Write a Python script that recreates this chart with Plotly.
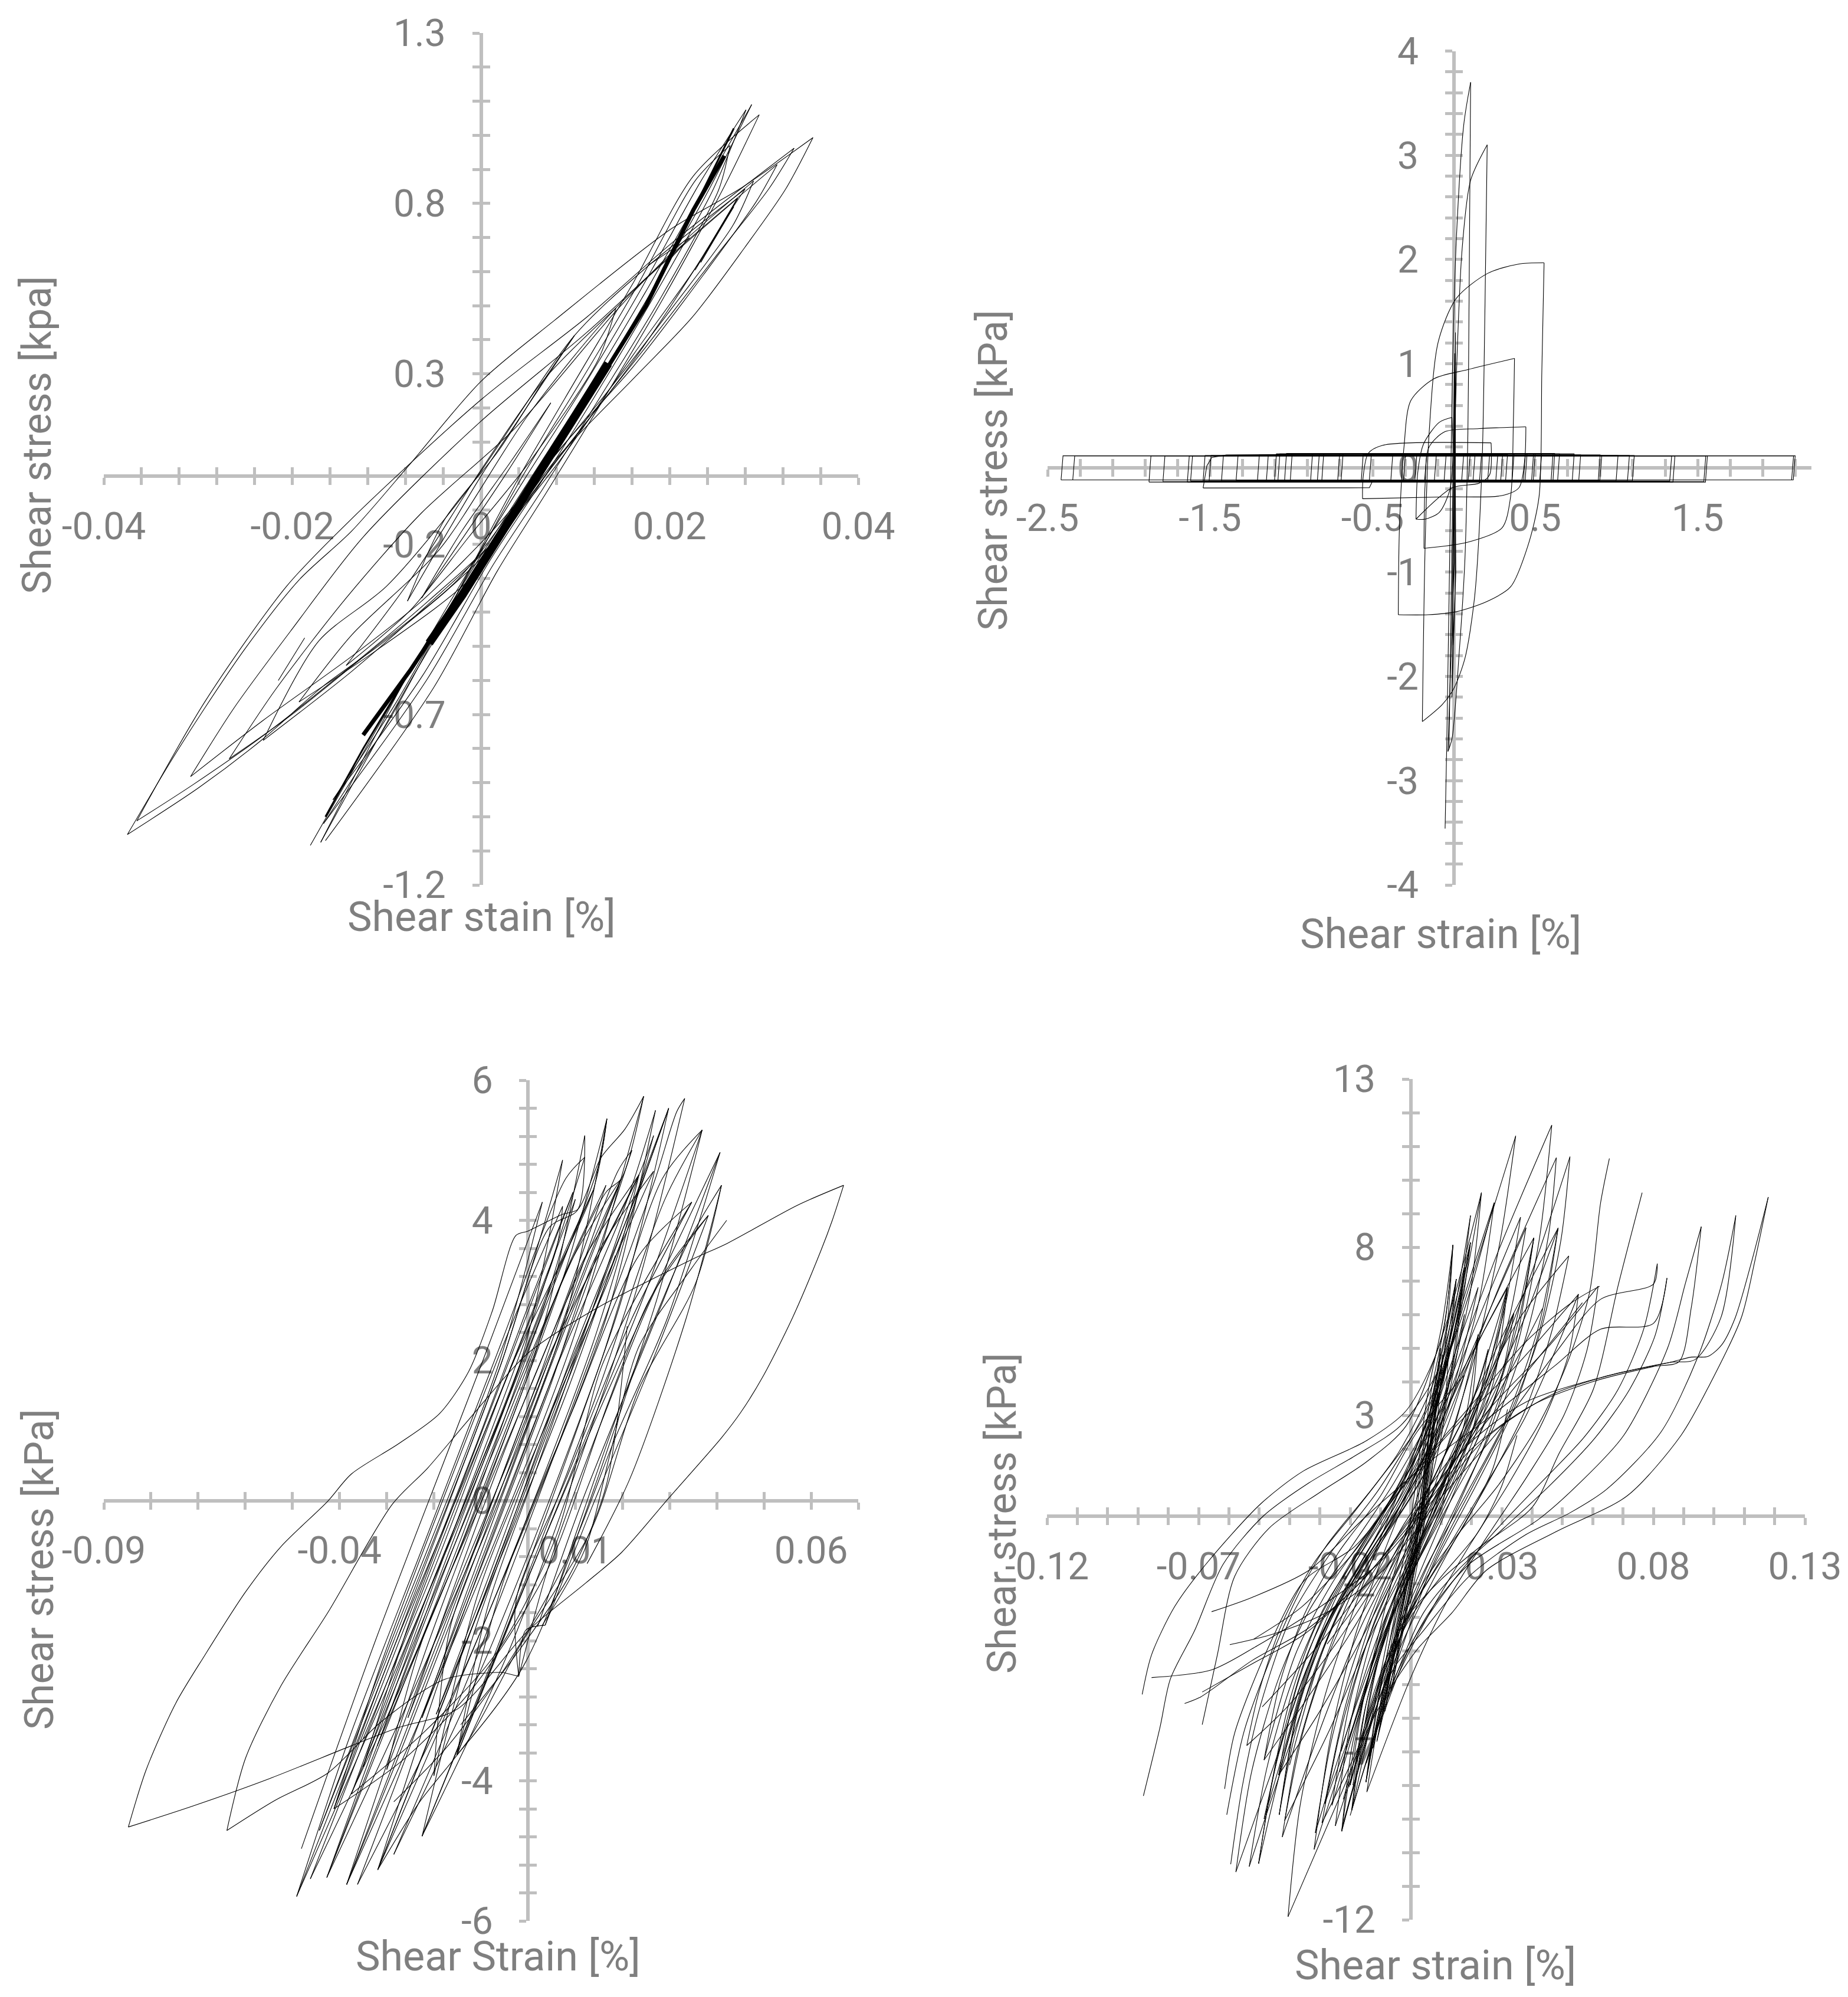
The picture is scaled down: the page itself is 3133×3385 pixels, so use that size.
import plotly.graph_objects as go

W, H = 3133, 3385
INK = "#000000"; AXIS = "#bfbfbf"; TEXT = "#7f7f7f"
FONT = "Roboto"
PAGE_MARGIN = 8   # the page body adds this much on the top and left

# ---------- tick definitions ----------
p1_xticks = [-0.04,-0.036,-0.032,-0.028,-0.024,-0.02,-0.016,-0.012,-0.008,-0.004,0,0.004,0.008,0.012,0.016,0.02,0.024,0.028,0.032,0.036,0.04]
p1_xlabels = {-0.04:"-0.04",-0.02:"-0.02",0:"0",0.02:"0.02",0.04:"0.04"}
p1_yticks = [-1.2,-1.1,-1.0,-0.9,-0.8,-0.7,-0.6,-0.5,-0.4,-0.3,-0.2,-0.1,0,0.1,0.2,0.3,0.4,0.5,0.6,0.7,0.8,0.9,1.0,1.1,1.2,1.3]
p1_ylabels = {-1.2:"-1.2",-0.7:"-0.7",-0.2:"-0.2",0.3:"0.3",0.8:"0.8",1.3:"1.3"}
p2_xticks = [-2.5,-2.3,-2.1,-1.9,-1.7,-1.5,-1.3,-1.1,-0.9,-0.7,-0.5,-0.3,-0.1,0.1,0.3,0.5,0.7,0.9,1.1,1.3,1.5,1.7,1.9,2.1]
p2_xlabels = {-2.5:"-2.5",-1.5:"-1.5",-0.5:"-0.5",0.5:"0.5",1.5:"1.5"}
p2_yticks = [-4,-3.8,-3.6,-3.4,-3.2,-3,-2.8,-2.6,-2.4,-2.2,-2,-1.8,-1.6,-1.4,-1.2,-1,-0.8,-0.6,-0.4,-0.2,0,0.2,0.4,0.6,0.8,1,1.2,1.4,1.6,1.8,2,2.2,2.4,2.6,2.8,3,3.2,3.4,3.6,3.8,4]
p2_ylabels = {-4:"-4",-3:"-3",-2:"-2",-1:"-1",0:"0",1:"1",2:"2",3:"3",4:"4"}
p3_xticks = [-0.09,-0.08,-0.07,-0.06,-0.05,-0.04,-0.03,-0.02,-0.01,0,0.01,0.02,0.03,0.04,0.05,0.06,0.07]
p3_xlabels = {-0.09:"-0.09",-0.04:"-0.04",0.01:"0.01",0.06:"0.06"}
p3_yticks = [-6,-5.6,-5.2,-4.8,-4.4,-4,-3.6,-3.2,-2.8,-2.4,-2,-1.6,-1.2,-0.8,-0.4,0,0.4,0.8,1.2,1.6,2,2.4,2.8,3.2,3.6,4,4.4,4.8,5.2,5.6,6]
p3_ylabels = {-6:"-6",-4:"-4",-2:"-2",0:"0",2:"2",4:"4",6:"6"}
p4_xticks = [-0.12,-0.11,-0.1,-0.09,-0.08,-0.07,-0.06,-0.05,-0.04,-0.03,-0.02,-0.01,0,0.01,0.02,0.03,0.04,0.05,0.06,0.07,0.08,0.09,0.1,0.11,0.12,0.13]
p4_xlabels = {-0.12:"-0.12",-0.07:"-0.07",-0.02:"-0.02",0.03:"0.03",0.08:"0.08",0.13:"0.13"}
p4_yticks = [-12,-11,-10,-9,-8,-7,-6,-5,-4,-3,-2,-1,0,1,2,3,4,5,6,7,8,9,10,11,12,13]
p4_ylabels = {-12:"-12",-7:"-7",-2:"-2",3:"3",8:"8",13:"13"}

# ---------- panel 1: shear strain / stress loops ----------
p1_loop_a = [(-0.0375,-1.052),(-0.033,-0.842),(-0.0293,-0.681),(-0.0249,-0.502),(-0.0193,-0.305),(-0.0137,-0.161),(-0.0075,0.036),(0,0.278),(0.0078,0.457),(0.0202,0.726),(0.0274,0.842),(0.0352,0.993),(0.0323,0.842),(0.028,0.672),(0.0224,0.466),(0.0162,0.287),(0.0081,0.054),(0.0006,-0.224),(-0.0038,-0.34),(-0.0106,-0.493),(-0.0168,-0.618),(-0.0231,-0.771),(-0.0299,-0.914),(-0.0375,-1.052)]
p1_loop_b = [(-0.0365,-1.012),(-0.0293,-0.663),(-0.0206,-0.323),(-0.0137,-0.125),(0,0.224),(0.0112,0.466),(0.0205,0.69),(0.0332,0.962),(0.0305,0.842),(0.0249,0.645),(0.0174,0.376),(0.0087,0.072),(0.0018,-0.179),(-0.0056,-0.367),(-0.0137,-0.556),(-0.0231,-0.762),(-0.0305,-0.905),(-0.0365,-1.012)]
p1_loop_c = [(-0.0308,-0.882),(-0.0262,-0.681),(-0.02,-0.448),(-0.0125,-0.179),(0,0.161),(0.0112,0.421),(0.0211,0.672),(0.0314,0.914),(0.0292,0.806),(0.0236,0.591),(0.0162,0.323),(0.0087,0.09),(0.0018,-0.143),(-0.0063,-0.367),(-0.0137,-0.529),(-0.0231,-0.717),(-0.0308,-0.882)]
p1_loop_d = [(-0.0267,-0.83),(-0.0218,-0.627),(-0.0143,-0.358),(-0.0063,-0.108),(0.0037,0.143),(0.0143,0.484),(0.0205,0.663),(0.0289,0.866),(0.0267,0.735),(0.0205,0.502),(0.013,0.233),(0.005,-0.036),(-0.0025,-0.305),(-0.0112,-0.502),(-0.02,-0.699),(-0.0267,-0.83)]
p1_loop_e = [(-0.0231,-0.776),(-0.0172,-0.484),(-0.01,-0.323),(-0.0013,-0.036),(0.0099,0.412),(0.0174,0.609),(0.028,0.842),(0.0267,0.788),(0.0227,0.609),(0.0162,0.358),(0.0081,0.036),(0.0006,-0.215),(-0.0063,-0.394),(-0.0137,-0.573),(-0.0231,-0.776)]
p1_loop_f = [(-0.0193,-0.663),(-0.0137,-0.466),(-0.0044,-0.215),(0.005,0.179),(0.0143,0.493),(0.0272,0.815),(0.0227,0.609),(0.0162,0.34),(0.0068,0),(-0.0013,-0.305),(-0.0106,-0.502),(-0.0193,-0.663)]
p1_loop_g = [(-0.0143,-0.556),(-0.0075,-0.305),(0,0.018),(0.0068,0.287),(0.0143,0.493),(0.0124,0.34),(0.005,0.036),(-0.0013,-0.179),(-0.0075,-0.394),(-0.0143,-0.556)]
p1_loop_i = [(-0.0078,-0.367),(0,0),(0.0043,0.179),(0.0099,0.412),(0.0068,0.287),(0.0018,0.072),(-0.0038,-0.125),(-0.0078,-0.367)]
p1_loop_j = [(-0.0063,-0.358),(0.0025,0),(0.0074,0.215),(0.0031,0.04),(-0.002,-0.16),(-0.0063,-0.358)]
p1_dash_h = [(-0.0215,-0.6),(-0.0187,-0.475)]
p1_dash_k = [(0.0227,0.604),(0.0272,0.815),(0.0233,0.627),(0.0268,0.79),(0.0229,0.615)]
p1_dash_l = [(0.0177,0.618),(0.0221,0.699),(0.0195,0.62)]
p1_band = [(-0.0181,-1.084),(-0.0075,-0.573),(0,-0.233),(0.005,-0.018),(0.0112,0.251),(0.0174,0.538),(0.0236,0.842),(0.0287,1.09),
           (0.0242,0.842),(0.018,0.538),(0.0118,0.251),(0.0057,-0.018),(0.0006,-0.233),(-0.0069,-0.573),(-0.017,-1.075),
           (-0.0081,-0.6),(-0.0005,-0.24),(0.0046,-0.01),(0.0108,0.26),(0.017,0.55),(0.0232,0.86),(0.0281,1.075),
           (0.0246,0.84),(0.0184,0.53),(0.0122,0.24),(0.0061,-0.03),(0.0009,-0.25),(-0.0063,-0.59),(-0.0157,-0.95),
           (-0.0089,-0.66),(-0.001,-0.27),(0.0042,-0.01),(0.0104,0.27),(0.0166,0.56),(0.0228,0.87),(0.0264,0.97),
           (0.0252,0.84),(0.019,0.52),(0.0126,0.23),(0.0065,-0.04),(0.0013,-0.26),(-0.0058,-0.6),(-0.0167,-1.02),
           (-0.0094,-0.7),(-0.0013,-0.28),(0.0039,-0.01),(0.01,0.28),(0.0162,0.57),(0.0225,0.88),(0.0295,1.06),
           (0.0258,0.85),(0.0195,0.53),(0.0131,0.23),(0.0069,-0.05),(0.0017,-0.28),(-0.005,-0.62),(-0.0165,-1.07)]
p1_band_core = [(-0.0055,-0.49),(-0.002,-0.35),(0.0046,-0.06),(0.0105,0.2),(0.0135,0.33)]
p1_band_wide = [(-0.0125,-0.76),(-0.0075,-0.57),(0,-0.255),(0.0065,0.02),(0.013,0.3),(0.0175,0.5),(0.0225,0.78),(0.0258,0.94)]
p1_band_thin = [(-0.0165,-1.0),(-0.0125,-0.8),(-0.0075,-0.57),(0,-0.255),(0.0065,0.02),(0.013,0.3),(0.0175,0.5),(0.0225,0.78),(0.0268,1.02)]

# ---------- panel 2 ----------
p2_band_left  = [-2.417,-2.345,-1.876,-1.79,-1.64,-1.62,-1.543,-1.506,-1.43,-1.34,-1.209,-1.154,-1.104,-1.083,-1.042,-1.007,-0.882,-0.84,-0.813,-0.715,-0.694,-0.57,-0.52,-0.388,-0.31,-0.24,-0.18,-0.12,-0.06]
p2_band_right = [2.1,2.09,1.56,1.55,1.36,1.34,1.11,1.08,1.01,0.91,0.9,0.78,0.74,0.65,0.61,0.54,0.5,0.49,0.45,0.44,0.37,0.33,0.3,0.27,0.22,0.17,0.13,0.1,0.06]
p2_band_top   = [0.117,0.117,0.117,0.117,0.117,0.117,0.12,0.12,0.12,0.12,0.125,0.125,0.135,0.135,0.14,0.14,0.135,0.135,0.135,0.135,0.135,0.13,0.13,0.13,0.13,0.13,0.125,0.125,0.12]
p2_band_bot   = [-0.115,-0.115,-0.135,-0.13,-0.135,-0.125,-0.125,-0.125,-0.125,-0.12,-0.13,-0.13,-0.13,-0.13,-0.125,-0.13,-0.13,-0.125,-0.13,-0.125,-0.125,-0.125,-0.12,-0.12,-0.12,-0.12,-0.12,-0.12,-0.12]
p2_spiral = [(-0.054,-3.46),(-0.044,-2.66),(-0.026,-0.873),(-0.009,0.914),(0.016,2.224),(0.061,3.296),(0.103,3.7),(0.093,1.51),(0.086,0.319),(0.068,-0.873),(0.033,-1.766),(-0.012,-2.6),(-0.037,-2.72),(-0.012,-1.468),(-0.002,-0.277),(0.016,0.914),(0.051,2.105),(0.103,2.76),(0.205,3.1),(0.191,1.51),(0.173,0.021),(0.128,-1.23),(0.068,-1.826),(-0.002,-2.12),(-0.072,-2.27),(-0.194,-2.433),(-0.177,-0.753),(-0.153,0.319),(-0.096,1.212),(0.016,1.629),(0.208,1.867),(0.401,1.957),(0.555,1.968),(0.541,0.914),(0.524,-0.277),(0.454,-0.753),(0.349,-1.14),(0.208,-1.278),(0.016,-1.379),(-0.159,-1.408),(-0.342,-1.408),(-0.335,-0.575),(-0.307,0.2),(-0.265,0.646),(-0.124,0.855),(0.086,0.944),(0.373,1.051),(0.366,0.438),(0.349,-0.277),(0.296,-0.575),(0.086,-0.712),(-0.184,-0.771),(-0.177,-0.158),(-0.153,0.2),(-0.054,0.349),(0.156,0.378),(0.443,0.395),(0.436,0.08),(0.401,-0.188),(0.296,-0.265),(-0.054,-0.277),(-0.562,-0.295),(-0.559,-0.098),(-0.527,0.14),(-0.44,0.217),(0.229,0.241),(0.219,-0.068),(0.156,-0.146),(-0.01,-0.19),(-0.233,-0.491),(-0.222,-0.039),(-0.187,0.229),(-0.09,0.438),(-0.012,0.485),(-0.005,0.14),(-0.026,-0.217),(-0.09,-0.426),(-0.177,-0.491),(-0.233,-0.491)]
p2_mid_rect = [(-1.543,-0.192),(-1.52,0.02),(-1.49,0.1),(-1.4,0.125),(-1.0,0.13),(0.3,0.14),(0.62,0.14),(0.61,-0.12),(-0.5,-0.125),(-0.52,-0.19),(-1.543,-0.192)]
p2_trunk = [(-0.03,-2.7),(0.005,1.1),(0.012,-1.0),(-0.012,-2.2),(0.01,1.3),(0.008,-1.2),(-0.008,-1.7),(0.005,0.8),(0.003,-0.9),(-0.005,-1.2),(0.006,0.5),(0.0,-0.6)]

# ---------- panel 3 ----------
p3_big_a = [(-0.0848,-4.66),(-0.081,-3.84),(-0.0748,-2.9),(-0.0686,-2.21),(-0.0599,-1.3),(-0.0524,-0.655),(-0.0425,-0.009),(-0.0375,0.379),(-0.0275,0.81),(-0.0188,1.241),(-0.0126,1.845),(-0.0076,2.707),(-0.0026,3.784),(-0.0001,3.845),(0.0073,4.086),(0.0105,4.155),(0.0155,4.9),(0.0205,5.3),(0.0245,5.77)]
p3_big_b = [(0.0669,4.5),(0.0645,4.0),(0.0621,3.57),(0.056,2.6),(0.0497,1.76),(0.045,1.25),(0.041,0.896),(0.0298,0.034),(0.0198,-0.741),(0.0123,-1.172),(-0.0001,-1.862),(-0.0151,-2.98),(-0.0275,-3.24),(-0.0375,-3.5),(-0.0549,-3.97),(-0.0711,-4.36),(-0.0848,-4.66)]
p3_big_c = [(-0.0639,-4.71),(-0.0599,-3.67),(-0.0524,-2.64),(-0.0425,-1.6),(-0.0288,-0.052),(-0.0213,0.465),(-0.0126,1.155),(-0.0001,2.1),(0.0136,2.71),(0.0347,3.44),(0.0422,3.67),(0.0571,4.215),(0.0669,4.5)]
p3_big_d = [(-0.0639,-4.71),(-0.0537,-4.28),(-0.0425,-3.89),(-0.0312,-3.16),(-0.0176,-2.55),(-0.0055,-2.45),(-0.002,-2.51),(-0.0005,-1.85),(0.0036,-1.78)]
p3_shallow_a = [(-0.0319,-5.27),(-0.023,-4.3),(-0.0125,-3.4),(-0.002,-2.1),(0.0135,-0.4),(0.0235,1.6),(0.0355,3.1),(0.041,4.5)]
p3_shallow_b = [(-0.0285,-4.3),(-0.017,-3.5),(-0.005,-2.4),(0.0085,-0.8),(0.0185,0.9),(0.0295,2.6),(0.0407,4.97)]
p3_shallow_c = [(-0.0412,-4.4),(-0.0265,-3.7),(-0.012,-2.7),(0.004,-1.0),(0.017,1.4),(0.026,2.9),(0.0382,4.07)]
p3_shallow_d = [(-0.0375,-4.19),(-0.022,-3.3),(-0.0065,-2.15),(0.006,-0.5),(0.0155,1.9),(0.0245,3.1),(0.0347,4.26)]
p3_shallow_e = [(-0.0143,-3.2),(-0.0037,-2.3),(0.0085,-1.1),(0.0165,0.2),(0.021,2.49)]
p3_shallow_f = [(0.003,-1.78),(0.012,-0.7),(0.0175,0.7),(0.0235,2.2),(0.0345,3.3),(0.0421,4.0)]
p3_chain_a = [(-0.0481,-4.97),(-0.0324,-2),(-0.0096,2),(0.003,4.26),(-0.006,2),(-0.029,-2),(-0.0443,-4.71),(-0.0285,-2),(-0.0055,2),(0.0073,4.86),(-0.0015,2),(-0.0255,-2),(-0.0491,-5.65),(-0.0285,-2.1),(-0.006,1.9),(0.0045,3.9),(0.0105,4.15),(0.012,5.21),(0.002,2.2),(-0.024,-2.2),(-0.0462,-5.4),(-0.0265,-2),(-0.003,2),(0.0138,4.43),(0.0167,5.45),(0.007,2.4),(-0.021,-2.2),(-0.0427,-5.38),(-0.0235,-2),(0,2),(0.0165,4.4),(0.0198,4.6),(0.0245,5.77),(0.009,2.2),(-0.017,-2.2),(-0.0385,-5.48),(-0.0185,-2),(0.004,2),(0.0235,4.65),(0.0266,5.21),(0.0135,2.2),(-0.0135,-2.4),(-0.0362,-5.48),(-0.0165,-2),(0.006,1.9),(0.0205,4.2),(0.027,5.57),(0.0165,2.6),(-0.0115,-2.1),(-0.0319,-5.27),(-0.013,-2),(0.0095,2),(0.0225,4.3),(0.0298,5.6),(0.0195,2.8),(-0.008,-2.1),(-0.0285,-5.05),(-0.0095,-2),(0.013,2),(0.027,4.6),(0.0315,5.55),(0.0332,5.74),(0.0225,2.9),(-0.0035,-2.05),(-0.0225,-4.79),(-0.006,-2),(0.015,1.9),(0.0285,4.6),(0.0369,5.29),(0.0265,2.7),(-0.0005,-2.3),(-0.0151,-3.63),(-0.0025,-1.5),(0.0185,1.8),(0.0407,4.97),(0.0295,3),(0.0115,0),(0.002,-1.8)]
p3_chain_b = [(-0.0412,-4.4),(-0.0285,-2.1),(-0.0085,1.1),(0.0055,3.5),(0.01,4.3),(0.0025,2.6),(-0.012,0.2),(-0.0265,-2.2),(-0.0375,-4.19),(-0.0235,-1.9),(-0.0055,1),(0.0085,3.35),(0.0165,4.5),(0.007,2.7),(-0.0085,0.2),(-0.0225,-2),(-0.03,-3.84),(-0.0175,-1.6),(-0.0015,1),(0.0125,3.4),(0.0198,4.6),(0.01,2.9),(-0.005,0.2),(-0.0165,-1.8),(-0.02,-3.93),(-0.0105,-1.3),(0.0045,1.2),(0.0185,3.4),(0.0235,4.65),(0.0135,2.7),(0.0015,0.4),(-0.0085,-1.5),(-0.0151,-3.63),(-0.005,-1.1),(0.0095,1.3),(0.0235,3.5),(0.0347,4.26),(0.022,2.6),(0.008,0.3),(-0.0025,-1.4),(-0.002,-2.51),(0.0045,-0.9),(0.016,1.2),(0.0285,3.2),(0.0382,4.07),(0.027,2.1),(0.0135,-0.1),(0.0036,-1.78),(0.0115,-0.2),(0.0215,1.7),(0.034,3.7),(0.041,4.5),(0.0335,2.6),(0.0215,0.3),(0.0125,-0.9)]
p3_chain_c = [(-0.035,-3.4),(-0.0195,-0.9),(-0.006,1.5),(0.006,3.6),(0.0073,4.2),(-0.003,2.6),(-0.017,0.2),(-0.0305,-2.2),(-0.0412,-4.4),(-0.025,-1.6),(-0.011,0.8),(-0.001,2.6),(0.0095,4.4),(0.0,2.7),(-0.012,0.6),(-0.025,-1.7),(-0.035,-3.8),(-0.0205,-1.2),(-0.006,1.2),(0.0055,3.2),(0.0138,4.43),(0.004,2.9),(-0.0075,0.9),(-0.02,-1.3),(-0.032,-3.5),(-0.017,-1.1),(-0.0025,1.4),(0.009,3.4),(0.0198,4.6),(0.0065,2.6),(-0.0045,0.8),(-0.015,-1.1),(-0.0255,-3.1),(-0.0115,-0.7),(0.002,1.7),(0.0115,3.4),(0.0235,4.65),(0.01,2.8),(-0.002,0.7),(-0.013,-1.3),(-0.0225,-3.1),(-0.0085,-0.7),(0.0045,1.6),(0.0145,3.5),(0.0266,4.7),(0.0135,2.7),(0.002,0.8),(-0.009,-1.2),(-0.0195,-3.05),(-0.0045,-0.6),(0.0085,1.6),(0.0185,3.5)]
p3_chain_d = [(-0.0491,-5.65),(-0.038,-3.4),(-0.022,-0.6),(-0.006,2.2),(0.008,4.6),(0.012,4.9),(0.001,2.6),(-0.014,-0.1),(-0.03,-3),(-0.0427,-5.38),(-0.031,-3.4),(-0.014,-0.5),(0.001,2.3),(0.015,4.8),(0.0167,5.45),(0.008,3.3),(-0.006,0.7),(-0.021,-2),(-0.0385,-5.48),(-0.026,-3.4),(-0.01,-0.6),(0.006,2.3),(0.019,4.7),(0.022,5),(0.012,3),(-0.002,0.5),(-0.018,-2.4),(-0.0319,-5.27),(-0.021,-3.4),(-0.005,-0.6),(0.01,2.2),(0.025,4.7),(0.0298,5.6),(0.017,3.2),(0.002,0.6),(-0.012,-2),(-0.0225,-4.79),(-0.011,-2.9),(0.002,-0.7),(0.015,1.6),(0.029,4.3),(0.0369,5.29),(0.025,3),(0.011,0.7),(-0.003,-1.6),(-0.0151,-3.63)]

# ---------- panel 4 ----------
p4_right_1 = [(-0.0855,-4.8),(-0.0657,-4.57),(-0.0506,-3.85),(-0.0298,-2.69),(-0.0109,-1.43),(0.0079,0.54),(0.0249,2.33),(0.0457,3.58),(0.0664,4.21),(0.0853,4.57),(0.0925,4.73),(0.098,4.75),(0.1025,5.09),(0.107,5.9),(0.1125,7.6),(0.1179,9.49),(0.1135,7.6),(0.109,5.9),(0.0985,3.9),(0.0891,2.4),(0.0713,0.6),(0.0479,-0.46),(0.0249,-1.61),(0.0136,-2.87),(0.0023,-3.94),(-0.0091,-5.47),(-0.0147,-6.45),(-0.0232,-8.3),(-0.0405,-11.91)]
p4_right_2 = [(-0.0746,-5.57),(-0.0694,-5.38),(-0.0525,-4.3),(-0.0336,-3.32),(-0.0147,-1.79),(0.0023,0.18),(0.0192,2.15),(0.0381,3.4),(0.0626,4.12),(0.0853,4.57),(0.0938,4.66),(0.1023,5.91),(0.1072,8.94),(0.1025,6.9),(0.0947,4.74),(0.0825,2.5),(0.0646,0.8),(0.0523,0.09),(0.0381,-0.54),(0.0192,-1.79),(0.0042,-3.4),(-0.0053,-4.48),(-0.0109,-5.56),(-0.0223,-9.14)]
p4_right_3 = [(-0.0688,-5.23),(-0.0525,-4.4),(-0.035,-3.5),(-0.016,-1.9),(0.002,0),(0.02,2),(0.04,3.3),(0.06,4),(0.08,4.45),(0.0885,4.6),(0.0925,6.2),(0.0958,8.61),(0.0905,6.9),(0.0847,5),(0.0702,2.4),(0.0556,0.98),(0.0422,-0.09),(0.0192,-1.43),(0.006,-2.87),(-0.0072,-5.2),(-0.0147,-7.35)]
p4_right_4 = [(0.0763,9.62),(0.0685,6.9),(0.0601,3.75),(0.049,1.88),(0.04,0.26),(0.023,-0.9),(0.0098,-1.9),(-0.0015,-3.05),(-0.0109,-5.2),(-0.0204,-8.06)]
p4_right_5 = [(0.0655,10.64),(0.0626,9.32),(0.0589,6.63),(0.0513,4.48),(0.0419,2.69),(0.0287,0.9),(0.0155,-0.54),(0.0042,-1.97),(-0.0053,-3.76),(-0.0128,-5.56),(-0.0223,-8.42)]
p4_right_6 = [(-0.0657,-2.84),(-0.0525,-2.42),(-0.0336,-1.61),(-0.0147,0),(0.006,1.61),(0.0249,2.87),(0.0476,4.48),(0.0626,5.56),(0.08,5.73),(0.0845,7.08),(0.0806,5.38),(0.0721,3.76),(0.0608,2.33),(0.0457,0.9),(0.0306,-0.36),(0.0155,-1.61),(0.0042,-2.87),(-0.0053,-4.84),(-0.0147,-7.35)]
p4_right_7 = [(-0.0597,-3.82),(-0.0449,-3.49),(-0.0279,-2.87),(-0.0091,-1.61),(0.0098,0.54),(0.0287,2.51),(0.0476,4.84),(0.0626,6.45),(0.08,6.9),(0.0813,7.51),(0.0768,5.56),(0.0683,3.76),(0.057,2.33),(0.0419,0.9),(0.0268,-0.54),(0.0136,-1.97),(0.0004,-3.76),(-0.0091,-5.91)]
p4_left_1 = [(-0.0886,-5.3),(-0.0855,-4.12),(-0.0779,-2.69),(-0.0676,-1.43),(-0.0496,0.36),(-0.0355,1.34),(-0.0147,2.24),(-0.0015,3.14),(0.0098,5.2),(0.0139,8.07)]
p4_left_2 = [(-0.0882,-8.32),(-0.0827,-6.27),(-0.0793,-4.84),(-0.0713,-3.4),(-0.0619,-1.43),(-0.0487,0),(-0.0336,0.99),(-0.0185,1.79),(-0.0034,2.69),(0.0098,4.48),(0.0197,8.14)]
p4_left_3 = [(-0.0688,-6.2),(-0.0638,-4.12),(-0.0581,-1.79),(-0.0468,-0.36),(-0.0298,0.72),(-0.0147,1.61),(-0.0015,2.69),(0.0117,5.73),(0.0233,9.62)]
p4_left_4 = [(-0.0614,-8.11),(-0.0581,-6.45),(-0.047,-3.9),(-0.035,-1.9),(-0.0185,-0.9),(0.0004,1.25),(0.0192,3.23),(0.0381,5.2),(0.0532,6.36),(0.0623,6.84)]
p4_left_5 = [(-0.0607,-8.88),(-0.055,-6.4),(-0.047,-4.4),(-0.038,-2.5),(-0.028,-0.9),(-0.012,0.9),(0.004,2.9),(0.0175,6.1),(0.0275,9.32)]
p4_fan = [(-0.0405,-11.91),(-0.0365,-8.6),(-0.0285,-5.4),(-0.0165,-2.2),(-0.0045,0.6),(0.008,3.5),(0.0185,6.6),(0.0346,11.31),(0.0295,8.2),(0.0215,4.9),(0.0125,2.2),(0.003,-0.4),(-0.008,-3),(-0.018,-6),(-0.0265,-8.4),(-0.0319,-9.91),(-0.0265,-6.6),(-0.0185,-3.6),(-0.0085,-1),(0.003,1.6),(0.0145,4.4),(0.0285,7.8),(0.0465,11.63),(0.0425,8.3),(0.0355,5.2),(0.0255,2.4),(0.0135,-0.1),(0.001,-2.6),(-0.011,-5.6),(-0.0228,-9.37),(-0.0195,-6.9),(-0.0135,-4.6),(-0.0055,-1.7),(0.0045,1.2),(0.0155,3.7),(0.0295,6.9),(0.048,10.66),(0.0455,8.4),(0.0385,5.5),(0.0285,2.9),(0.0165,0.6),(0.0035,-1.9),(-0.0085,-5),(-0.0148,-7.91),(-0.0115,-5.8),(-0.0055,-3.2),(0.0035,-0.6),(0.0155,1.9),(0.0285,4.6),(0.0405,7.4),(0.0525,10.69),(0.0495,8.2),(0.0425,5.4),(0.0325,3),(0.0205,0.9),(0.0075,-1.4),(-0.0055,-4.6),(-0.0195,-8.75)]
p4_fan_b = [(-0.0594,-10.35),(-0.0555,-8),(-0.0495,-5.6),(-0.0395,-3),(-0.0265,-1.1),(-0.0105,0.8),(0.0035,2.9),(0.0135,5.2),(0.0233,9.62),(0.0195,6.6),(0.0125,3.9),(0.0035,1.4),(-0.0085,-0.4),(-0.0225,-2.3),(-0.0345,-4.6),(-0.0455,-7.5),(-0.0577,-10.58),(-0.0525,-7.6),(-0.0435,-4.8),(-0.0335,-2.8),(-0.0195,-0.9),(-0.0055,1),(0.0075,3.2),(0.0165,6.2),(0.0275,9.32),(0.0225,6.4),(0.0135,3.5),(0.0035,1.1),(-0.0105,-0.9),(-0.0245,-3),(-0.0365,-5.9),(-0.0533,-10.42),(-0.0475,-7.5),(-0.0395,-5),(-0.0285,-2.7),(-0.0145,-0.7),(-0.0015,1.4),(0.0095,4),(0.0197,8.94),(0.0145,5.5),(0.0075,3.2),(-0.0035,0.6),(-0.0165,-1.4),(-0.0295,-3.6),(-0.0405,-6.7),(-0.0502,-10.33),(-0.0445,-7.4),(-0.0355,-4.8),(-0.0245,-2.6),(-0.0115,-0.6),(0.0015,1.8),(0.0105,4.6),(0.0139,8.07)]
p4_fan_c = [(-0.0434,-8.88),(-0.0385,-6.6),(-0.031,-4.4),(-0.0205,-2.2),(-0.0075,-0.2),(0.0055,2),(0.0175,4.8),(0.0362,8.89),(0.0305,6),(0.0205,3.1),(0.0085,0.9),(-0.0045,-1.2),(-0.016,-3.2),(-0.0285,-6),(-0.0424,-9.54),(-0.0375,-7),(-0.0295,-4.6),(-0.0195,-2.3),(-0.006,-0.1),(0.0075,2.3),(0.0205,5),(0.038,8.58),(0.0325,5.9),(0.0235,3.2),(0.0115,0.8),(-0.0015,-1.5),(-0.0135,-3.6),(-0.0265,-6.3),(-0.0416,-9.05),(-0.0355,-6.4),(-0.0275,-4.2),(-0.0165,-2),(-0.0035,0.3),(0.0105,2.9),(0.0235,5.4),(0.0406,8.28),(0.0355,5.8),(0.0265,3.2),(0.0145,0.9),(0.001,-1.6),(-0.0115,-4),(-0.0225,-6.8),(-0.0315,-9.42),(-0.026,-6.6),(-0.018,-4.1),(-0.0075,-1.7),(0.0045,0.6),(0.0185,3.1),(0.0315,5.6),(0.0486,8.57),(0.0435,5.9),(0.0345,3.3),(0.022,1),(0.0085,-1.3),(-0.0045,-3.8),(-0.017,-6.8),(-0.0293,-9.12),(-0.0235,-6.5),(-0.015,-3.9),(-0.0045,-1.6),(0.0085,0.9),(0.0225,3.6),(0.036,5.9),(0.0521,7.74),(0.0465,5.5),(0.0375,3.1),(0.0255,1),(0.0115,-1.2),(-0.002,-3.6),(-0.014,-6.3),(-0.0249,-9.21)]
p4_fan_d = [(-0.0191,-8),(-0.0155,-5.9),(-0.0085,-3.5),(0.0015,-1.1),(0.0115,1.2),(0.0215,3.7),(0.0319,6.8),(0.027,4.6),(0.0185,2.4),(0.0065,-0.2),(-0.0045,-2.5),(-0.0125,-4.9),(-0.0195,-8.75),(-0.0145,-5.5),(-0.0055,-2.9),(0.0045,-0.7),(0.0155,1.5),(0.0255,3.8),(0.034,6.04),(0.0295,4),(0.0205,2),(0.009,-0.4),(-0.0025,-2.9),(-0.0105,-5.2),(-0.0228,-9.37),(-0.017,-6),(-0.0085,-3.1),(0.0025,-0.8),(0.0125,1.3),(0.0195,3.1),(0.0222,5.4),(0.0175,2.7),(0.0075,0.1),(-0.0045,-2.4),(-0.0145,-5.1),(-0.0284,-8.55),(-0.022,-5.8),(-0.013,-3.1),(-0.0015,-0.7),(0.0105,1.7),(0.0205,3.5),(0.0255,4.96),(0.0205,2.6),(0.011,0.4),(-0.002,-2.1),(-0.013,-4.5),(-0.0234,-7.6)]
p4_fan_e = [(0.0618,6.84),(0.058,4.9),(0.0505,3),(0.0385,1.2),(0.0245,-0.7),(0.0115,-2.6),(0,-4.8),(-0.0145,-8.2),(-0.0089,-5.3),(-0.0015,-3.1),(0.0105,-1.2),(0.0245,0.9),(0.0375,2.9),(0.0485,5.1),(0.0553,6.6),(0.052,4.8),(0.044,2.9),(0.0325,1),(0.0185,-1),(0.0055,-3),(-0.0075,-5.4),(-0.02,-8.9)]
p4_fan_f = [(-0.0541,-6.82),(-0.05,-5.2),(-0.0425,-3.2),(-0.032,-1.4),(-0.018,0.2),(-0.004,1.9),(0.008,4.1),(0.015,7.05),(0.0105,3.9),(0.001,1.6),(-0.012,-0.2),(-0.026,-2),(-0.038,-4.1),(-0.0484,-7.25),(-0.043,-4.9),(-0.035,-2.9),(-0.024,-1.1),(-0.01,0.6),(0.002,2.5),(0.0177,4.2),(0.01,2.2),(-0.002,0.3),(-0.016,-1.5),(-0.03,-3.6),(-0.0436,-7.7),(-0.038,-5.2),(-0.029,-3),(-0.017,-1),(-0.003,1),(0.012,3.5),(0.0319,6.8)]
p4_fan_g = [(-0.0249,-9.21),(-0.02,-6.2),(-0.012,-3.4),(0,-1),(0.012,1.2),(0.025,3.4),(0.038,6),(0.0486,8.57),(0.042,5.6),(0.031,2.8),(0.018,0.6),(0.004,-1.7),(-0.009,-4.5),(-0.02,-8),(-0.015,-5.2),(-0.006,-2.6),(0.006,-0.2),(0.018,2),(0.03,4.2),(0.0406,8.28),(0.034,4.9),(0.024,2.3),(0.011,0.1),(-0.003,-2.3),(-0.014,-5),(-0.026,-8.6),(-0.02,-5.5),(-0.011,-2.9),(0.002,-0.5),(0.014,1.7),(0.024,3.9),(0.0319,6.8),(0.027,3.9),(0.016,1.3),(0.002,-1),(-0.011,-3.6),(-0.023,-7)]
p4_fan_h = [(-0.0502,-10.33),(-0.046,-8),(-0.04,-5.5),(-0.032,-3.4),(-0.02,-1.4),(-0.006,0.6),(0.006,2.7),(0.014,5.4),(0.0197,8.14),(0.012,4.5),(0.003,2),(-0.01,-0.1),(-0.024,-2.3),(-0.034,-4.5),(-0.041,-6.7),(-0.0484,-9),(-0.0424,-6.6),(-0.035,-4.3),(-0.024,-2.2),(-0.01,-0.2),(0.003,1.8),(0.012,4.2),(0.0222,6.8),(0.012,3.2),(0.001,1),(-0.013,-1),(-0.027,-3.2),(-0.037,-5.6),(-0.0434,-8.88),(-0.037,-5.7),(-0.028,-3.4),(-0.016,-1.3),(-0.002,0.8),(0.009,3),(0.0177,6),(0.009,2.4),(-0.002,0.4),(-0.017,-1.7),(-0.029,-4),(-0.04,-7.4)]
p4_shallow_a = [(-0.0276,-3.8),(-0.0145,-2.2),(-0.002,-0.2),(0.012,1.6),(0.028,3.4),(0.045,5),(0.0618,6.84)]
p4_shallow_b = [(-0.0519,-3.66),(-0.036,-2.7),(-0.02,-1.2),(-0.004,0.7),(0.014,2.6),(0.034,4.4),(0.0553,6.6)]
p4_shallow_c = [(-0.049,-5.67),(-0.033,-4.1),(-0.018,-2.4),(-0.003,-0.4),(0.014,1.6),(0.034,3.8),(0.0566,6.35)]
p4_shallow_d = [(-0.0541,-6.82),(-0.04,-5.6),(-0.024,-3.7),(-0.008,-1.5),(0.008,0.8),(0.026,3.2),(0.0434,6.17)]
p4_shallow_e = [(-0.0436,-7.7),(-0.03,-5.8),(-0.016,-3.6),(-0.002,-1.1),(0.014,1.6),(0.034,6.04)]
p4_shallow_f = [(-0.0484,-7.25),(-0.034,-5.4),(-0.018,-3.2),(-0.003,-0.7),(0.012,2),(0.0222,5.4)]
p4_shallow_g = [(0.035,2.4),(0.03,0.9),(0.022,-0.5),(0.01,-1.8),(0,-3),(-0.01,-4.9),(-0.0173,-7.4)]
p4_shallow_h = [(0.0319,3.18),(0.027,1.4),(0.018,-0.2),(0.006,-1.9),(-0.004,-3.4),(-0.012,-5.2),(-0.019,-7.6)]
p4_shallow_i = [(0.0138,1.79),(0.0105,0.4),(0.003,-1.2),(-0.005,-2.7),(-0.011,-4.4),(-0.0148,-6.1)]
p4_trunk = [(-0.0195,-8.75),(-0.0115,-5.4),(-0.0055,-2.6),(-0.0005,-0.4),(0.0025,1.6),(0.0055,3.6),(0.0105,5.8),(0.0139,8.07),(0.0115,5.9),(0.0065,3.6),(0.0035,1.6),(0.0005,-0.4),(-0.0045,-2.6),(-0.0105,-5.4),(-0.0148,-7.91),(-0.0097,-5.4),(-0.004,-2.6),(0.001,-0.4),(0.004,1.6),(0.0072,3.6),(0.0122,5.8),(0.015,7.05),(0.0128,5.6),(0.0078,3.4),(0.0045,1.4),(0.0015,-0.6),(-0.0035,-2.8),(-0.009,-5.4),(-0.0135,-7.1),(-0.0085,-5),(-0.003,-2.4),(0.002,-0.2),(0.005,1.8),(0.0085,3.8),(0.0135,5.9),(0.0197,8.14),(0.0165,6.1),(0.0092,3.6),(0.0055,1.6),(0.0025,-0.4),(-0.0025,-2.6),(-0.008,-5.1),(-0.0125,-6.9),(-0.0072,-4.6),(-0.002,-2.2),(0.003,0),(0.006,2),(0.01,4),(0.0172,6.9),(0.0145,4.8),(0.0105,3),(0.0065,1.2),(0.0035,-0.6),(-0.0015,-2.8),(-0.0065,-4.9),(-0.0112,-6.7),(-0.006,-4.2),(-0.001,-2),(0.004,0.4),(0.007,2.6),(0.0115,4.6),(0.0178,7.4),(0.013,4.2),(0.0085,2.4),(0.0045,0.4),(-0.0005,-2),(-0.0055,-4.2),(-0.0105,-6.4),(-0.0045,-3.6),(-0.0003,-1.4),(0.0048,0.8),(0.0082,3),(0.0125,5),(0.0105,2.6),(0.0055,0.6),(0.0005,-1.8),(-0.004,-3.8),(-0.0085,-5.8)]
p4_trunk_b = [(-0.009,-5.6),(-0.0025,-2.9),(0.002,-0.9),(0.0045,1.2),(0.0065,3),(0.0092,4.6),(0.0075,2.8),(0.0052,1),(0.0015,-0.9),(-0.0025,-2.6),(-0.0075,-5),(-0.0022,-2.5),(0.0022,-0.6),(0.0048,1.4),(0.0072,3.2),(0.0098,5),(0.0082,3),(0.0058,1.2),(0.0025,-0.9),(-0.0012,-2.8),(-0.0065,-5.2),(-0.0015,-2.7),(0.0028,-0.7),(0.0054,1.3),(0.0078,3),(0.0105,4.8),(0.0085,2.6),(0.0062,0.8),(0.0032,-0.9),(-0.0002,-2.6)]

PANELS = [
    dict(xr=[-0.04,0.04], yr=[-1.2,1.3], px=[176,1455], py=[56,1500], xt=p1_xticks, xl=p1_xlabels, yt=p1_yticks, yl=p1_ylabels,
         paths=[p1_loop_a,p1_loop_b,p1_loop_c,p1_loop_d,p1_loop_e,p1_loop_f,p1_loop_g,p1_loop_i,p1_loop_j,p1_dash_h,p1_dash_k,p1_dash_l,p1_band],
         straight=[], thick=[(p1_band_core,14),(p1_band_wide,7),(p1_band_thin,3)]),
    dict(xr=[-2.5,2.2], yr=[-4,4], px=[1776,3071], py=[86.5,1500], xt=p2_xticks, xl=p2_xlabels, yt=p2_yticks, yl=p2_ylabels,
         paths=[p2_spiral],
         straight=[p2_mid_rect,p2_trunk]
               +[[(l,b),(l+0.012,t),(r,t),(r-0.012,b),(l,b)] for l,r,t,b in zip(p2_band_left,p2_band_right,p2_band_top,p2_band_bot)],
         thick=[]),
    dict(xr=[-0.09,0.07], yr=[-6,6], px=[176,1455], py=[1831,3256], xt=p3_xticks, xl=p3_xlabels, yt=p3_yticks, yl=p3_ylabels,
         paths=[p3_big_a,p3_big_b,p3_big_c,p3_big_d,p3_shallow_a,p3_shallow_b,p3_shallow_c,p3_shallow_d,p3_shallow_e,p3_shallow_f,p3_chain_a,p3_chain_b,p3_chain_c,p3_chain_d],
         straight=[], thick=[]),
    dict(xr=[-0.12,0.13], yr=[-12,13], px=[1775,3060], py=[1829,3254], xt=p4_xticks, xl=p4_xlabels, yt=p4_yticks, yl=p4_ylabels,
         paths=[p4_right_1,p4_right_2,p4_right_3,p4_right_4,p4_right_5,p4_right_6,p4_right_7,p4_left_1,p4_left_2,p4_left_3,p4_left_4,p4_left_5,
                p4_fan,p4_fan_b,p4_fan_c,p4_fan_d,p4_fan_e,p4_fan_f,p4_fan_g,p4_fan_h,p4_shallow_a,p4_shallow_b,p4_shallow_c,p4_shallow_d,p4_shallow_e,p4_shallow_f,p4_shallow_g,p4_shallow_h,p4_shallow_i,p4_trunk,p4_trunk_b],
         straight=[], thick=[]),
]

TITLES = [
    ("Shear stain [%]", 816, 1554, 0), ("Shear stress [kpa]", 63, 738, -90),
    ("Shear strain [%]", 2442, 1583, 0), ("Shear stress [kPa]", 1684, 797, -90),
    ("Shear Strain [%]", 844, 3316, 0), ("Shear stress [kPa]", 67, 2660, -90),
    ("Shear strain [%]", 2433, 3331, 0), ("Shear stress [kPa]", 1699, 2565, -90),
]

fig = go.Figure()
layout = dict(width=W, height=H, autosize=False, margin=dict(l=0,r=0,t=0,b=0,pad=0,autoexpand=False),
              paper_bgcolor="white", plot_bgcolor="rgba(0,0,0,0)", showlegend=False,
              font=dict(family=FONT, color=TEXT, size=64), hovermode=False)

TICK_FONT = dict(family=FONT, color=TEXT, size=64)

def tl(vals, labels):
    out = []
    for v in vals:
        out.append(next((t for k,t in labels.items() if abs(k-v) < 1e-9), ""))
    return out

def branches(path):
    """Cut a path where the stress reverses, so each turning point stays a sharp tip."""
    out, cur, sign = [], [path[0]], 0
    for q in path[1:]:
        d = q[1] - cur[-1][1]
        s = (d > 0) - (d < 0)
        if s and sign and s != sign:
            out.append(cur)
            cur = [cur[-1]]
        if s:
            sign = s
        cur.append(q)
    out.append(cur)
    return out

for i, p in enumerate(PANELS):
    a, b = i+1, i+5
    px0, px1 = p["px"][0]-PAGE_MARGIN, p["px"][1]-PAGE_MARGIN
    py0, py1 = p["py"][0]-PAGE_MARGIN, p["py"][1]-PAGE_MARGIN
    xd = [px0/W, px1/W]
    yd = [1-py1/H, 1-py0/H]
    ypos = yd[0] + (0-p["yr"][0])/(p["yr"][1]-p["yr"][0])*(yd[1]-yd[0])
    xpos = xd[0] + (0-p["xr"][0])/(p["xr"][1]-p["xr"][0])*(xd[1]-xd[0])
    common = dict(showgrid=False, zeroline=False, showline=True, linecolor=AXIS, linewidth=6, automargin=False,
                  tickcolor=AXIS, tickwidth=5, ticklen=12, layer="below traces", tickmode="array", fixedrange=True)
    layout[f"xaxis{a}"] = dict(common, domain=xd, range=p["xr"], anchor="free", position=ypos, side="bottom",
                               ticks="outside", tickvals=p["xt"], ticktext=tl(p["xt"],p["xl"]), tickfont=TICK_FONT, ticklabelstandoff=15, tickangle=0)
    layout[f"yaxis{a}"] = dict(common, domain=yd, range=p["yr"], anchor="free", position=xpos, side="left",
                               ticks="outside", tickvals=p["yt"], ticktext=tl(p["yt"],p["yl"]), tickfont=TICK_FONT, ticklabelstandoff=32)
    layout[f"xaxis{b}"] = dict(common, domain=xd, range=p["xr"], anchor="free", position=ypos, side="bottom", overlaying=f"x{a}" if a>1 else "x",
                               ticks="inside", tickvals=p["xt"], showticklabels=False)
    layout[f"yaxis{b}"] = dict(common, domain=yd, range=p["yr"], anchor="free", position=xpos, side="left", overlaying=f"y{a}" if a>1 else "y",
                               ticks="inside", tickvals=p["yt"], showticklabels=False)
    fig.add_trace(go.Scatter(x=[None], y=[None], xaxis=f"x{a}", yaxis=f"y{a}", mode="lines", hoverinfo="skip"))
    for path in p["paths"]:
        for br in branches(path):
            fig.add_trace(go.Scatter(x=[q[0] for q in br], y=[q[1] for q in br], xaxis=f"x{b}", yaxis=f"y{b}",
                                     mode="lines", line=dict(color=INK, width=1.1, shape="spline", smoothing=0.8), hoverinfo="skip"))
    for path in p["straight"]:
        fig.add_trace(go.Scatter(x=[q[0] for q in path], y=[q[1] for q in path], xaxis=f"x{b}", yaxis=f"y{b}",
                                 mode="lines", line=dict(color=INK, width=1.1), hoverinfo="skip"))
    for path, w in p["thick"]:
        fig.add_trace(go.Scatter(x=[q[0] for q in path], y=[q[1] for q in path], xaxis=f"x{b}", yaxis=f"y{b}",
                                 mode="lines", line=dict(color=INK, width=w), hoverinfo="skip"))

layout["annotations"] = [dict(text=t, x=(x-PAGE_MARGIN)/W, y=1-(y-PAGE_MARGIN)/H, xref="paper", yref="paper", xanchor="center", yanchor="middle",
                              showarrow=False, textangle=ang, font=dict(family=FONT, color=TEXT, size=68 if ang else 70)) for t,x,y,ang in TITLES]
fig.update_layout(**layout)
fig.write_html("out.html")
